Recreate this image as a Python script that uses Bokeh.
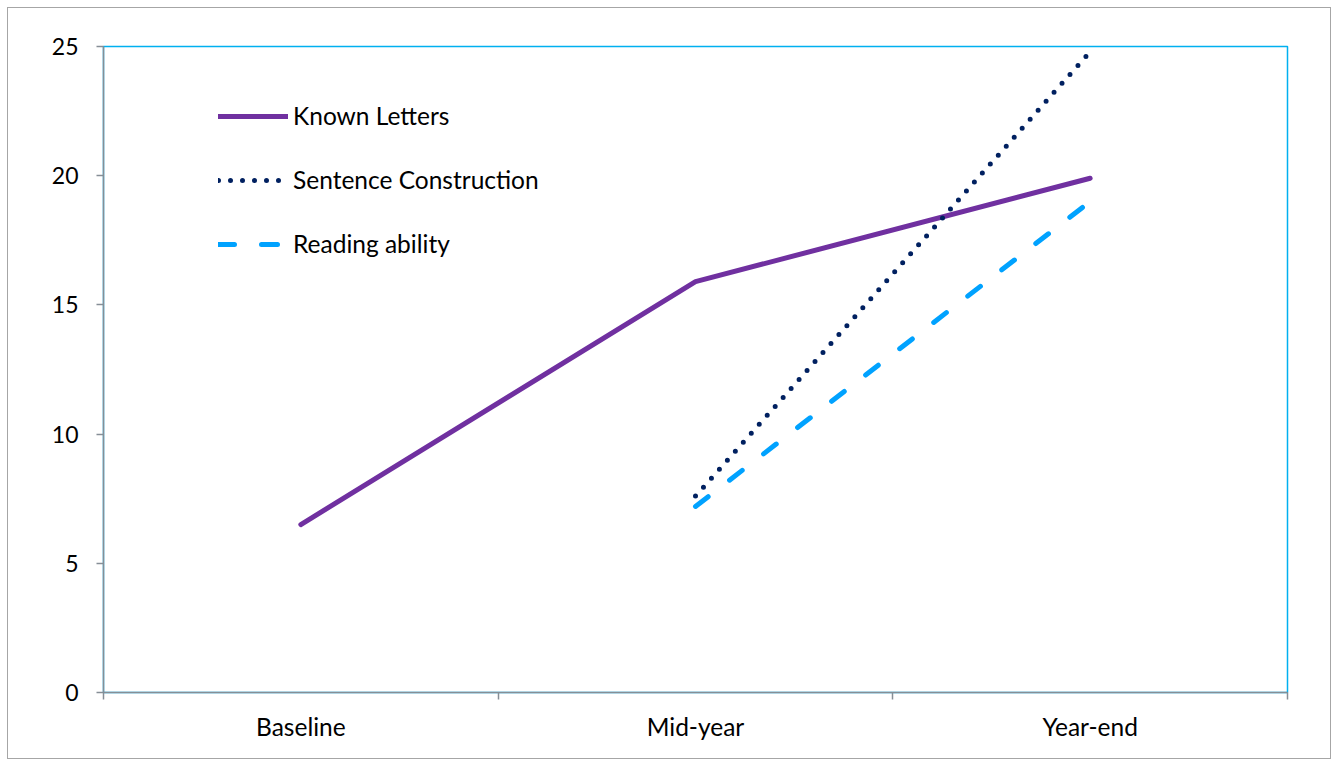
from bokeh.plotting import figure
from bokeh.models import FixedTicker, Legend, LegendItem, Range1d
from bokeh.embed import file_html
from bokeh.resources import INLINE

categories = ["Baseline", "Mid-year", "Year-end"]
known_letters = [6.5, 15.9, 19.9]
sentence_construction = [None, 7.6, 24.8]
reading_ability = [None, 7.2, 19.0]
y_ticks = [0, 5, 10, 15, 20, 25]

FONT = "Lato"
x_pos = [i + 0.5 for i in range(len(categories))]

p = figure(width=1324, height=752, output_backend="svg", toolbar_location=None,
           x_range=Range1d(0, len(categories)), y_range=Range1d(0, 25),
           min_border_left=95, min_border_right=45, min_border_top=38, min_border_bottom=68)
p.styles = {"border": "1px solid #A6A6A6", "margin": "7px 0 0 7px"}
p.grid.visible = False
p.outline_line_color = "#00B0F0"
p.outline_line_width = 1.5
p.background_fill_color = "white"
p.border_fill_color = "white"

# axes
for ax in (p.xaxis[0], p.yaxis[0]):
    ax.axis_line_color = "#868E96"
    ax.axis_line_width = 1.5
    ax.major_label_text_font = FONT
    ax.major_label_text_color = "black"
p.yaxis.major_label_text_font_size = "23px"
p.xaxis.major_label_text_font_size = "24.5px"

p.yaxis.ticker = FixedTicker(ticks=y_ticks)
p.yaxis.major_tick_out = 7
p.yaxis.major_tick_in = 0
p.yaxis.major_tick_line_color = "#868E96"
p.yaxis.major_tick_line_width = 1.5
p.yaxis.minor_tick_line_color = None
p.yaxis.major_label_standoff = 18

p.xaxis.ticker = FixedTicker(ticks=x_pos, minor_ticks=list(range(len(categories) + 1)))
p.xaxis.major_label_overrides = {x: c for x, c in zip(x_pos, categories)}
p.xaxis.major_tick_line_color = None
p.xaxis.major_tick_out = 0
p.xaxis.major_tick_in = 0
p.xaxis.minor_tick_out = 7
p.xaxis.minor_tick_in = 0
p.xaxis.minor_tick_line_color = "#868E96"
p.xaxis.minor_tick_line_width = 1.5
p.xaxis.major_label_standoff = 12

def pts(vals):
    xs = [x for x, v in zip(x_pos, vals) if v is not None]
    ys = [v for v in vals if v is not None]
    return xs, ys

xs, ys = pts(known_letters)
r1 = p.line(xs, ys, line_color="#7030A0", line_width=5, line_cap="round", line_join="round")
xs, ys = pts(sentence_construction)
r2 = p.line(xs, ys, line_color="#002060", line_width=5, line_cap="round", line_dash="0 12")
xs, ys = pts(reading_ability)
r3 = p.line(xs, ys, line_color="#00A2FF", line_width=5, line_cap="round", line_dash="16 27")

legend = Legend(items=[LegendItem(label="Known Letters", renderers=[r1]),
                       LegendItem(label="Sentence Construction", renderers=[r2]),
                       LegendItem(label="Reading ability", renderers=[r3])],
                location=(115, 434))
legend.label_text_font = FONT
legend.label_text_font_size = "24.5px"
legend.label_text_color = "black"
legend.glyph_width = 70
legend.glyph_height = 20
legend.label_height = 20
legend.spacing = 35
legend.label_standoff = 5
legend.padding = 0
legend.margin = 0
legend.border_line_color = None
legend.background_fill_alpha = 0
p.add_layout(legend)

open("out.html", "w").write(file_html(p, INLINE))
